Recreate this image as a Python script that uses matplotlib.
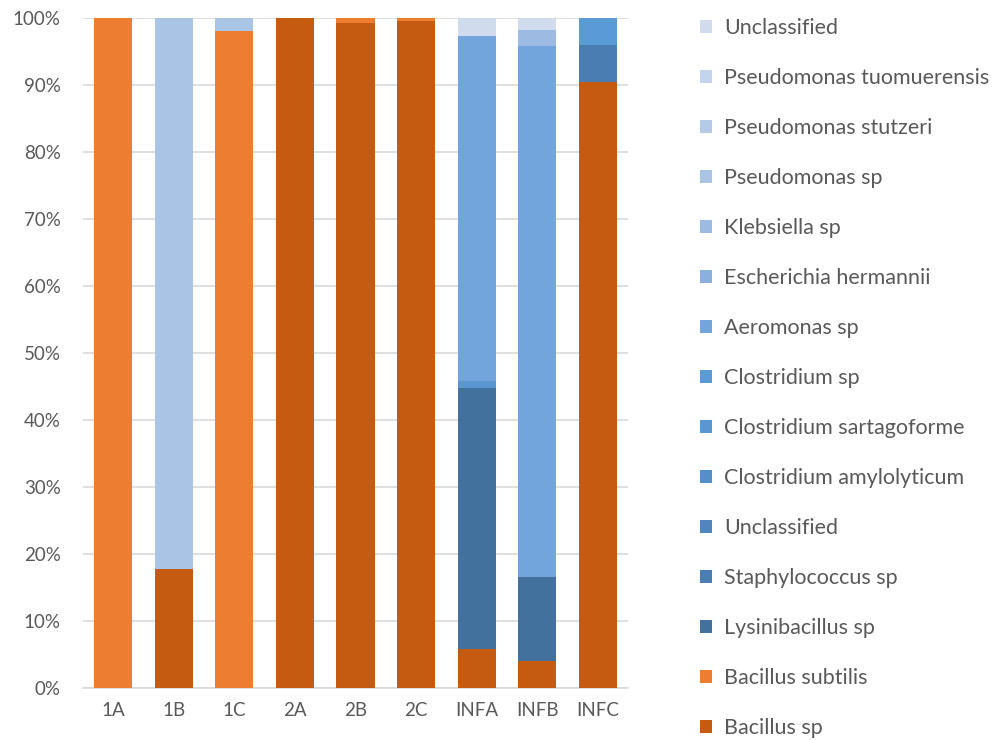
import matplotlib
matplotlib.use("Agg")
import matplotlib.pyplot as plt
import numpy as np

plt.rcParams['font.family'] = ['Lato', 'DejaVu Sans']

categories = ["1A", "1B", "1C", "2A", "2B", "2C", "INFA", "INFB", "INFC"]

# stacking order bottom -> top
series_names = [
    "Bacillus sp", "Bacillus subtilis", "Lysinibacillus sp", "Staphylococcus sp",
    "Unclassified", "Clostridium amylolyticum", "Clostridium sartagoforme",
    "Clostridium sp", "Aeromonas sp", "Escherichia hermannii", "Klebsiella sp",
    "Pseudomonas sp", "Pseudomonas stutzeri", "Pseudomonas tuomuerensis", "Unclassified",
]

bacillus_sp        = [0, 17.8, 0, 100, 99.3, 99.6, 5.8, 4.0, 90.4]
bacillus_subtilis  = [100, 0, 98.0, 0, 0.7, 0.4, 0, 0, 0]
lysinibacillus_sp  = [0, 0, 0, 0, 0, 0, 39.0, 12.6, 0]
staphylococcus_sp  = [0, 0, 0, 0, 0, 0, 0, 0, 5.6]
unclassified_a     = [0, 0, 0, 0, 0, 0, 0, 0, 0]
clostridium_amylo  = [0, 0, 0, 0, 0, 0, 0, 0, 0]
clostridium_sarta  = [0, 0, 0, 0, 0, 0, 1.0, 0, 0]
clostridium_sp     = [0, 0, 0, 0, 0, 0, 0, 0, 4.0]
aeromonas_sp       = [0, 0, 0, 0, 0, 0, 51.5, 79.2, 0]
escherichia_herm   = [0, 0, 0, 0, 0, 0, 0, 0, 0]
klebsiella_sp      = [0, 0, 0, 0, 0, 0, 0, 2.4, 0]
pseudomonas_sp     = [0, 82.2, 2.0, 0, 0, 0, 0, 0, 0]
pseudomonas_stutz  = [0, 0, 0, 0, 0, 0, 0, 0, 0]
pseudomonas_tuom   = [0, 0, 0, 0, 0, 0, 0, 0, 0]
unclassified_b     = [0, 0, 0, 0, 0, 0, 2.7, 1.8, 0]

series_values = [
    bacillus_sp, bacillus_subtilis, lysinibacillus_sp, staphylococcus_sp,
    unclassified_a, clostridium_amylo, clostridium_sarta, clostridium_sp,
    aeromonas_sp, escherichia_herm, klebsiella_sp, pseudomonas_sp,
    pseudomonas_stutz, pseudomonas_tuom, unclassified_b,
]

colors = [
    "#c55a11", "#ed7d31", "#41719c", "#4a7eb3", "#4f86bd", "#558fc7",
    "#5a96cf", "#5b9bd5", "#72a5db", "#8ab0de", "#9dbbe2", "#a9c4e4",
    "#b4cbe8", "#c3d5ed", "#d0dcee",
]

fig = plt.figure(figsize=(9.98, 7.4), dpi=100)
ax = fig.add_axes([0.0832, 0.0703, 0.546, 0.9054])

x = np.arange(len(categories))
bottom = np.zeros(len(categories))
handles = []
for name, vals, c in zip(series_names, series_values, colors):
    v = np.array(vals, dtype=float)
    h = ax.bar(x, v, bottom=bottom, width=0.63, color=c, label=name, zorder=3)
    handles.append(h)
    bottom += v

ax.set_xlim(-0.5, len(categories) - 0.5)
ax.set_ylim(0, 100)
ax.set_yticks(np.arange(0, 101, 10))
ax.set_yticklabels([f"{t}%" for t in range(0, 101, 10)])
ax.set_xticks(x)
ax.set_xticklabels(categories)
ax.yaxis.grid(True, color="#d9d9d9", linewidth=1.2, zorder=0)
for s in ["top", "right", "left"]:
    ax.spines[s].set_visible(False)
ax.spines["bottom"].set_color("#d9d9d9")
ax.spines["bottom"].set_linewidth(1.2)
ax.tick_params(axis="y", length=0, colors="#595959", labelsize=13.5, pad=16)
ax.tick_params(axis="x", length=0, colors="#595959", labelsize=13.5, pad=10)

leg = fig.legend(handles[::-1], series_names[::-1], loc="upper left",
                 bbox_to_anchor=(0.7014, 0.976), frameon=False, fontsize=15.5,
                 handlelength=0.56, handleheight=0.56, handletextpad=0.55,
                 labelspacing=1.395, labelcolor="#595959", borderaxespad=0,
                 borderpad=0)

fig.savefig("out.png", dpi=100)
